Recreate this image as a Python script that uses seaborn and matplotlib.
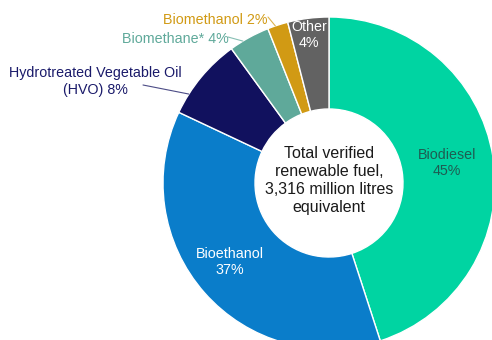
import numpy as np
import matplotlib
matplotlib.use("Agg")
import matplotlib.pyplot as plt
import seaborn as sns

# Share of verified renewable fuel by type (%)
fuels = ["Biodiesel", "Bioethanol", "Hydrotreated Vegetable Oil (HVO)",
         "Biomethane*", "Biomethanol", "Other"]
shares = [45, 37, 8, 4, 2, 4]
colors = ["#00D4A2", "#0A7DCA", "#11115E", "#5FA99A", "#D19A14", "#626262"]
label_texts = ["Biodiesel\n45%", "Bioethanol\n37%",
               "Hydrotreated Vegetable Oil\n(HVO) 8%",
               "Biomethane* 4%", "Biomethanol 2%", "Other\n4%"]
label_colors = ["#1E5C52", "#FFFFFF", "#1A1A6A", "#5FA99A", "#D19A14", "#FFFFFF"]
center_text = "Total verified\nrenewable fuel,\n3,316 million litres\nequivalent"

sns.set_theme(style="white")
plt.rcParams["font.family"] = ["Liberation Sans", "DejaVu Sans"]

W, H = 492, 340
fig = plt.figure(figsize=(W / 100, H / 100), dpi=100)
ax = fig.add_axes([0, 0, 1, 1])

cx, cy = 329, H - 183
r_out, r_in = 166, 74
wedges, _ = ax.pie(shares, colors=colors, startangle=90, counterclock=False,
                   center=(cx, cy), radius=r_out, frame=True,
                   wedgeprops=dict(width=r_out - r_in, edgecolor="white", linewidth=1.0))
ax.set_xlim(0, W)
ax.set_ylim(0, H)
ax.set_aspect("equal")
ax.axis("off")

fs = 10.3
ax.text(cx, H - 180.5, center_text, ha="center", va="center", fontsize=11.5,
        color="#1A1A1A", linespacing=1.25)

# In-ring labels
ax.text(447, H - 163, label_texts[0], ha="center", va="center", fontsize=fs,
        color=label_colors[0], linespacing=1.27)
ax.text(230, H - 262, label_texts[1], ha="center", va="center", fontsize=fs,
        color=label_colors[1], linespacing=1.27)
ax.text(309, H - 35, label_texts[5], ha="center", va="center", fontsize=fs,
        color=label_colors[5], linespacing=1.12)

# Outside labels with leader lines to the outer rim of their wedges
def rim_point(w, frac):
    ang = np.deg2rad(w.theta1 + frac * (w.theta2 - w.theta1))
    return cx + r_out * np.cos(ang), cy + r_out * np.sin(ang)

outside = [(2, (95, H - 81.5), (143, H - 85), 0.75),
           (3, (175, H - 39), (228, H - 37), 0.67),
           (4, (215.5, H - 20), (268, H - 17), 0.62)]
for i, (tx, ty), (lx, ly), frac in outside:
    ax.text(tx, ty, label_texts[i], ha="center", va="center", fontsize=fs,
            color=label_colors[i], linespacing=1.2)
    px, py = rim_point(wedges[i], frac)
    ax.plot([lx, px], [ly, py], color=colors[i], lw=0.8, alpha=0.75)

fig.savefig("out.png", dpi=100)
